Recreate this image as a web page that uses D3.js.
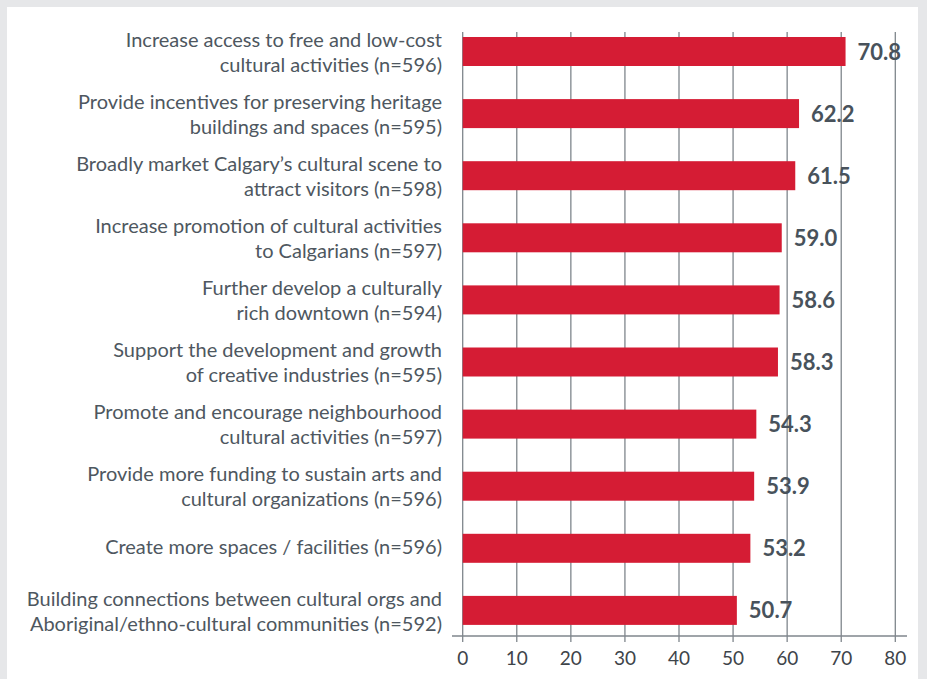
<!DOCTYPE html>
<html lang="en">
<head>
    <meta charset="UTF-8">
    <title>Cultural priorities</title>
    <script src="https://d3js.org/d3.v7.min.js"></script>
    <style>
        html, body { margin: 0; padding: 0; background: #e6e7e9; }
        svg { display: block; font-family: Lato, "Open Sans", sans-serif; }
    </style>
</head>
<body>
    <script>
        const width = 927;
        const height = 679;

        // data
        const categories = [
            "Increase access to free and low-cost\ncultural activities (n=596)",
            "Provide incentives for preserving heritage\nbuildings and spaces (n=595)",
            "Broadly market Calgary\u2019s cultural scene to\nattract visitors (n=598)",
            "Increase promotion of cultural activities\nto Calgarians (n=597)",
            "Further develop a culturally\nrich downtown (n=594)",
            "Support the development and growth\nof creative industries (n=595)",
            "Promote and encourage neighbourhood\ncultural activities (n=597)",
            "Provide more funding to sustain arts and\ncultural organizations (n=596)",
            "Create more spaces / facilities (n=596)",
            "Building connections between cultural orgs and\nAboriginal/ethno-cultural communities (n=592)"
        ];
        const values = [70.8, 62.2, 61.5, 59.0, 58.6, 58.3, 54.3, 53.9, 53.2, 50.7];
        const ticks = [0, 10, 20, 30, 40, 50, 60, 70, 80];

        const x = d3.scaleLinear().domain([0, 80]).range([462.7, 895.3]);
        const y = d3.scaleBand()
            .domain(categories)
            .range([20.45, 641.45])
            .paddingInner(0.533)
            .paddingOuter(0.2665);

        const svg = d3.select("body").append("svg")
            .attr("width", width)
            .attr("height", height);

        // white panel
        svg.append("rect")
            .attr("x", 7).attr("y", 7)
            .attr("width", 911).attr("height", height)
            .attr("fill", "#fff");

        // gridlines
        svg.append("g")
            .selectAll("line")
            .data(ticks)
            .join("line")
            .attr("x1", d => x(d)).attr("x2", d => x(d))
            .attr("y1", 32).attr("y2", 642)
            .attr("stroke", "#7f868c")
            .attr("stroke-width", 1.3);

        // baseline axis
        svg.append("line")
            .attr("x1", 452).attr("x2", 907)
            .attr("y1", 636).attr("y2", 636)
            .attr("stroke", "#7f868c")
            .attr("stroke-width", 1.3);

        svg.append("g")
            .selectAll("text")
            .data(ticks)
            .join("text")
            .attr("x", d => x(d))
            .attr("y", 665)
            .attr("text-anchor", "middle")
            .attr("font-size", 19)
            .attr("fill", "#3e444a")
            .text(d => d);

        // bars
        svg.append("g")
            .selectAll("rect")
            .data(values)
            .join("rect")
            .attr("x", x(0))
            .attr("y", (d, i) => y(categories[i]))
            .attr("width", d => x(d) - x(0))
            .attr("height", y.bandwidth())
            .attr("fill", "#d51c34");

        // value labels
        svg.append("g")
            .selectAll("text")
            .data(values)
            .join("text")
            .attr("x", d => x(d) + 12)
            .attr("y", (d, i) => y(categories[i]) + y.bandwidth() / 2 + 8)
            .attr("font-size", 22)
            .attr("font-weight", "bold")
            .attr("fill", "#48525b")
            .text(d => d.toFixed(1));

        // category labels
        const lab = svg.append("g")
            .selectAll("text")
            .data(categories)
            .join("text")
            .attr("text-anchor", "end")
            .attr("font-size", 20)
            .attr("fill", "#4e5760");

        lab.each(function(d) {
            const lines = d.split("\n");
            const cy = y(d) + y.bandwidth() / 2;
            const first = lines.length === 1 ? cy + 6 : cy - 4.8;
            d3.select(this).selectAll("tspan")
                .data(lines)
                .join("tspan")
                .attr("x", 442)
                .attr("y", (l, i) => first + i * 25)
                .text(l => l);
        });
    </script>
</body>
</html>
